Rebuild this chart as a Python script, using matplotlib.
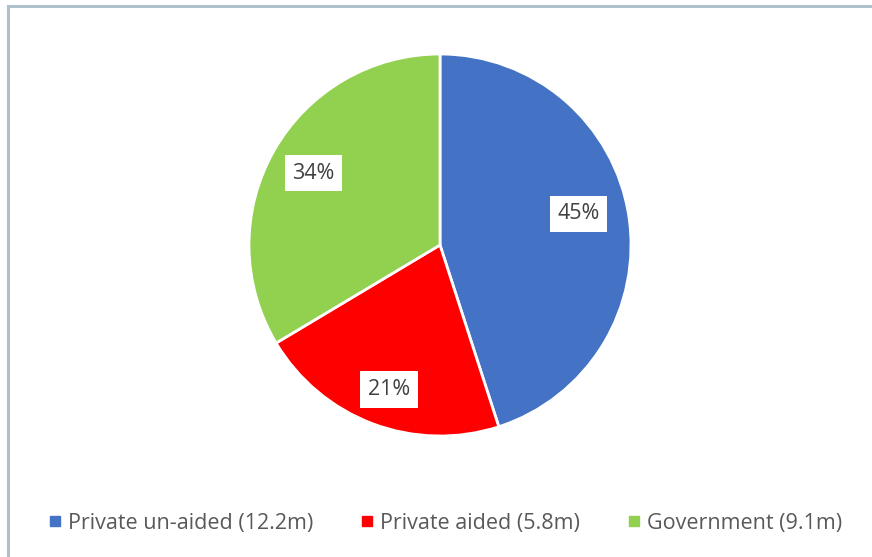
import matplotlib.pyplot as plt
from matplotlib.patches import Rectangle
from matplotlib.lines import Line2D

labels = ["Private un-aided (12.2m)", "Private aided (5.8m)", "Government (9.1m)"]
values = [12.2, 5.8, 9.1]
colors = ["#4472C4", "#FF0000", "#92D050"]

W, H = 872, 557
fig = plt.figure(figsize=(W / 100, H / 100), dpi=100)
plt.rcParams['font.family'] = ['Open Sans', 'DejaVu Sans']

# chart frame (runs off the right and bottom edges)
fig.patches.append(Rectangle((8 / W, -0.1), 1.0, (H - 6) / H + 0.1, transform=fig.transFigure,
                             facecolor='white', edgecolor='#AEC0CC', lw=2.2, zorder=-5))

r = 191
ax = fig.add_axes([(440 - r) / W, (H - 245 - r) / H, 2 * r / W, 2 * r / H])
ax.set_zorder(2)
wedges, texts, autotexts = ax.pie(values, colors=colors, startangle=90, counterclock=False,
                                  autopct='%1.0f%%', pctdistance=0.76,
                                  wedgeprops=dict(edgecolor='white', linewidth=2),
                                  textprops=dict(fontsize=15.5, color='#404040'))
# Excel's best-fit nudges
nudge = [(-0.025, 0.045), (0.0, -0.045), (0.0, 0.0)]
for t, (dx, dy) in zip(autotexts, nudge):
    x, y = t.get_position()
    t.set_position((x + dx, y + dy))
    t.set_bbox(dict(facecolor='white', edgecolor='none', pad=5.5))
ax.set_xlim(-1, 1)
ax.set_ylim(-1, 1)
ax.set_aspect('equal')
ax.axis('off')

handles = [Line2D([], [], marker='s', linestyle='none', markersize=6.5,
                  markerfacecolor=c, markeredgecolor=c) for c in colors]
fig.legend(handles, labels, loc='center', bbox_to_anchor=(443 / W, 1 - 523 / H),
           ncol=3, frameon=False, fontsize=15.5, handletextpad=0.1, handlelength=1.0,
           columnspacing=2.0, labelcolor='#595959')

fig.savefig('out.png', dpi=100)
